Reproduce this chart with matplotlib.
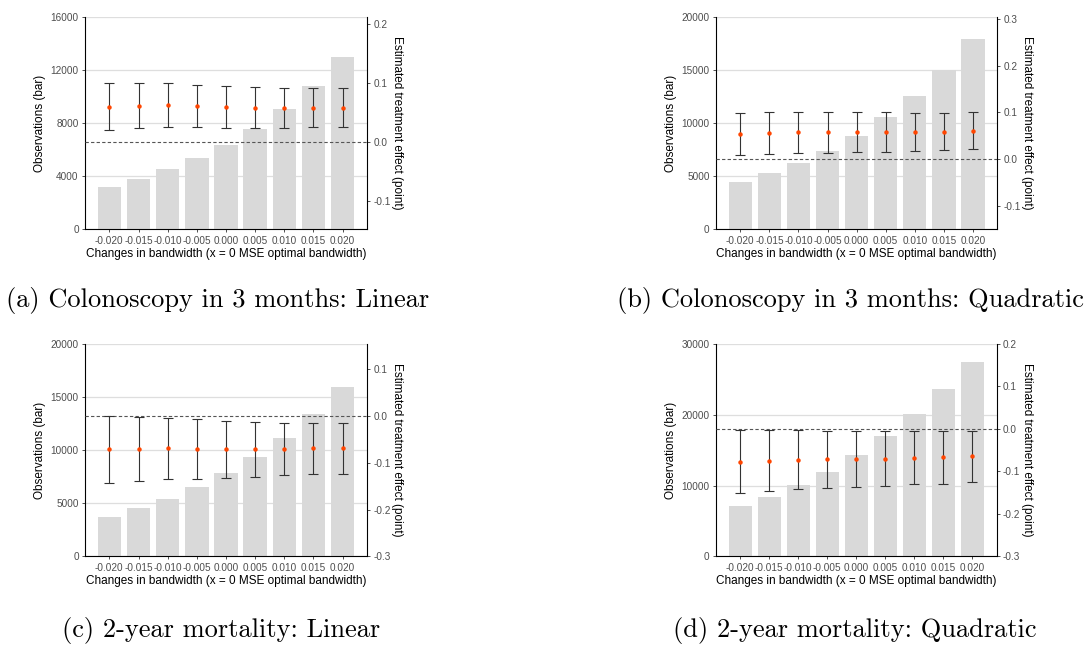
import matplotlib
matplotlib.use("Agg")
import matplotlib.pyplot as plt
import numpy as np

plt.rcParams['axes.unicode_minus'] = False
plt.rcParams['font.family'] = ['Liberation Sans', 'DejaVu Sans']

bw_labels = ["-0.020", "-0.015", "-0.010", "-0.005", "0.000", "0.005", "0.010", "0.015", "0.020"]

obs_a = [3220, 3800, 4530, 5385, 6365, 7573, 9083, 10819, 13008]
est_a = [0.059, 0.061, 0.062, 0.061, 0.059, 0.058, 0.058, 0.058, 0.058]
lo_a = [0.020, 0.023, 0.025, 0.025, 0.024, 0.024, 0.024, 0.025, 0.025]
hi_a = [0.099, 0.099, 0.099, 0.097, 0.095, 0.093, 0.092, 0.091, 0.091]

obs_b = [4500, 5315, 6258, 7390, 8805, 10566, 12579, 15031, 17956]
est_b = [0.053, 0.056, 0.058, 0.058, 0.058, 0.058, 0.058, 0.059, 0.061]
lo_b = [0.010, 0.011, 0.013, 0.014, 0.016, 0.016, 0.018, 0.019, 0.021]
hi_b = [0.099, 0.102, 0.102, 0.102, 0.102, 0.100, 0.099, 0.099, 0.101]

obs_c = [3736, 4521, 5400, 6499, 7818, 9388, 11178, 13376, 15982]
est_c = [-0.071, -0.070, -0.069, -0.070, -0.071, -0.071, -0.070, -0.068, -0.069]
lo_c = [-0.143, -0.139, -0.135, -0.134, -0.132, -0.130, -0.127, -0.124, -0.124]
hi_c = [-0.001, -0.002, -0.004, -0.007, -0.010, -0.012, -0.014, -0.014, -0.016]

obs_d = [7112, 8430, 10126, 11915, 14270, 17003, 20110, 23643, 27507]
est_d = [-0.078, -0.075, -0.073, -0.072, -0.072, -0.070, -0.068, -0.067, -0.064]
lo_d = [-0.150, -0.146, -0.142, -0.140, -0.137, -0.134, -0.130, -0.129, -0.124]
hi_d = [-0.003, -0.003, -0.003, -0.006, -0.006, -0.006, -0.006, -0.006, -0.006]

captions = ["(a) Colonoscopy in 3 months: Linear",
            "(b) Colonoscopy in 3 months: Quadratic",
            "(c) 2-year mortality: Linear",
            "(d) 2-year mortality: Quadratic"]

W, H = 1086, 646
fig = plt.figure(figsize=(W / 100, H / 100), dpi=100)

panels = [
    dict(obs=obs_a, est=est_a, lo=lo_a, hi=hi_a, rect=(85, 17.3, 367, 229.3),
         ymax=16000, yticks=[0, 4000, 8000, 12000, 16000],
         r=(-0.1486, 0.2114), rticks=[-0.1, 0.0, 0.1, 0.2], cap=(218, 300)),
    dict(obs=obs_b, est=est_b, lo=lo_b, hi=hi_b, rect=(716, 17.3, 997.3, 229.3),
         ymax=20000, yticks=[0, 5000, 10000, 15000, 20000],
         r=(-0.150, 0.3036), rticks=[-0.1, 0.0, 0.1, 0.2, 0.3], cap=(850, 300)),
    dict(obs=obs_c, est=est_c, lo=lo_c, hi=hi_c, rect=(85, 344, 367, 556.3),
         ymax=20000, yticks=[0, 5000, 10000, 15000, 20000],
         r=(-0.300, 0.154), rticks=[-0.3, -0.2, -0.1, 0.0, 0.1], cap=(221, 631)),
    dict(obs=obs_d, est=est_d, lo=lo_d, hi=hi_d, rect=(716, 344, 996.7, 556.3),
         ymax=30000, yticks=[0, 10000, 20000, 30000],
         r=(-0.300, 0.200), rticks=[-0.3, -0.2, -0.1, 0.0, 0.1, 0.2], cap=(855, 631)),
]

tick_col = '#4d4d4d'
x = np.arange(len(bw_labels))

for p, cap in zip(panels, captions):
    x0, y0, x1, y1 = p['rect']
    ax = fig.add_axes([x0 / W, 1 - y1 / H, (x1 - x0) / W, (y1 - y0) / H])
    ax.set_facecolor('white')
    for yt in p['yticks']:
        ax.axhline(yt, color='#dedede', lw=0.9, zorder=0)
    ax.bar(x, p['obs'], width=0.8, color='#d9d9d9', zorder=1)
    ax.set_xlim(-0.835, len(x) - 1 + 0.835)
    ax.set_ylim(0, p['ymax'])
    ax.set_yticks(p['yticks'])
    ax.set_yticklabels([str(v) for v in p['yticks']])
    ax.set_xticks(x)
    ax.set_xticklabels(bw_labels)
    ax.tick_params(axis='both', labelsize=7.2, colors='#333333', labelcolor=tick_col,
                   length=2.5, width=0.6, pad=2)
    ax.spines['top'].set_visible(False)
    ax.spines['right'].set_visible(False)
    for s in ['left', 'bottom']:
        ax.spines[s].set_linewidth(0.8)
        ax.spines[s].set_color('black')
    ax.set_ylabel('Observations (bar)', fontsize=8.5, labelpad=3)
    ax.set_xlabel('Changes in bandwidth (x = 0 MSE optimal bandwidth)', fontsize=8.5, labelpad=1.5)

    ax2 = ax.twinx()
    ax2.set_ylim(*p['r'])
    ax2.set_yticks(p['rticks'])
    ax2.set_yticklabels(['%.1f' % v for v in p['rticks']])
    ax2.tick_params(axis='y', labelsize=7.2, colors='#333333', labelcolor=tick_col,
                    length=2.5, width=0.6, pad=2)
    ax2.spines['top'].set_visible(False)
    ax2.spines['left'].set_visible(False)
    ax2.spines['bottom'].set_visible(False)
    ax2.spines['right'].set_linewidth(0.8)
    ax2.spines['right'].set_color('black')
    ax2.axhline(0, color='#555555', lw=0.8, ls=(0, (3, 2)), zorder=2)
    est = np.array(p['est'])
    lo = np.array(p['lo'])
    hi = np.array(p['hi'])
    ax2.errorbar(x, est, yerr=[est - lo, hi - est], fmt='none', ecolor='#333333',
                 elinewidth=0.8, capsize=3.5, capthick=0.8, zorder=3)
    ax2.plot(x, est, 'o', color='#ff4500', ms=3.2, mec='none', zorder=4)
    ax2.set_ylabel('Estimated treatment effect (point)', fontsize=8.5, rotation=-90,
                   labelpad=9)

    fig.text(p['cap'][0] / W, 1 - p['cap'][1] / H, cap, family='cmr10', fontsize=19,
             ha='center', va='center')

fig.savefig('out.png', dpi=100, facecolor='white')
